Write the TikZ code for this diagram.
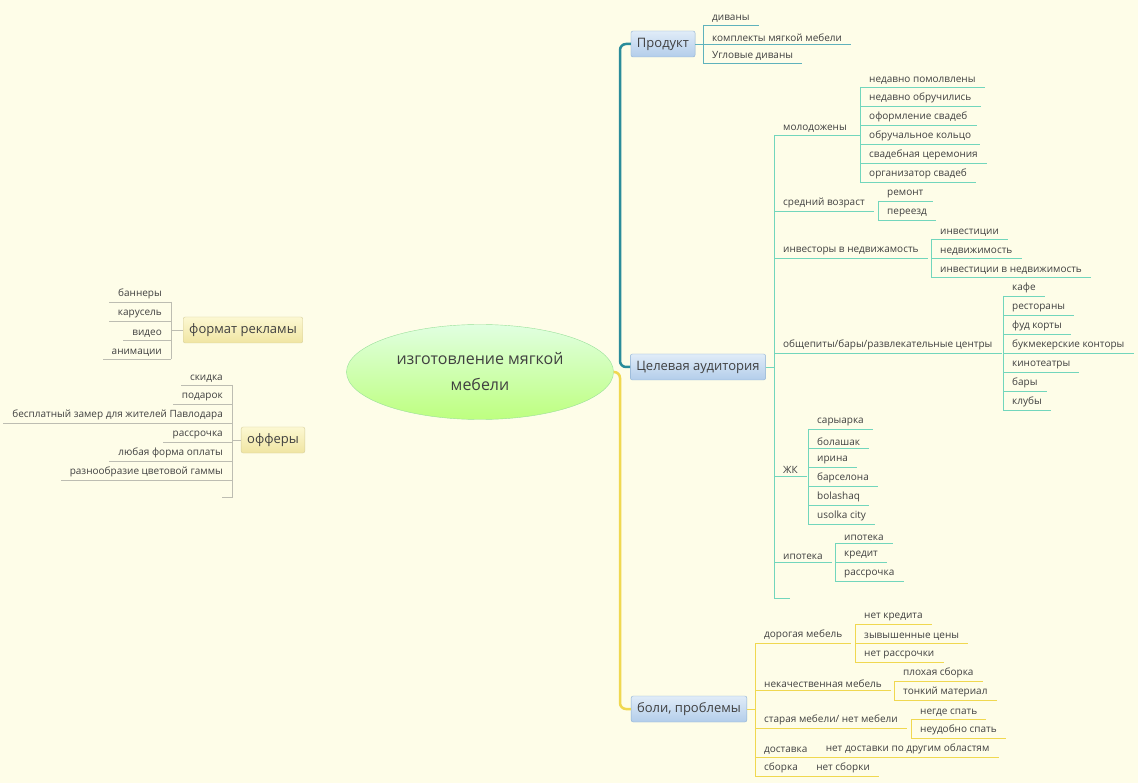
\documentclass[tikz,border=0pt]{standalone}
\usepackage{fontspec}
\setmainfont{Open Sans}
\usetikzlibrary{positioning, shapes.geometric}
\definecolor{bg}{HTML}{FEFDE8}
\definecolor{tealline}{HTML}{2A8C9A}
\definecolor{prodline}{HTML}{5FB2BC}
\definecolor{audline}{HTML}{72D6BC}
\definecolor{painline}{HTML}{F0D850}
\definecolor{leftline}{HTML}{BDBDB2}
\definecolor{boxtop}{HTML}{E0ECF8}
\definecolor{boxbot}{HTML}{B3CDEA}
\definecolor{boxdraw}{HTML}{8DB0D2}
\definecolor{ytop}{HTML}{FCF8D2}
\definecolor{ybot}{HTML}{F0E5A2}
\definecolor{ydraw}{HTML}{D6CE9C}
\begin{document}
\begin{tikzpicture}[x=1pt, y=-1pt,
    every node/.style={font=\fontsize{10}{12}\selectfont, text=black!75},
    leaf/.style={anchor=south west, inner xsep=9pt, inner ysep=2.5pt,
      append after command={(\tikzlastnode.south west) edge[draw=#1] (\tikzlastnode.south east)}},
    lleaf/.style={anchor=south east, inner xsep=9pt, inner ysep=2.5pt,
      append after command={(\tikzlastnode.south east) edge[draw=#1] (\tikzlastnode.south west)}},
    topic/.style={draw=boxdraw, rounded corners=2pt, top color=boxtop, bottom color=boxbot,
      font=\fontsize{13}{15}\selectfont, minimum height=26pt, inner xsep=6pt},
    ltopic/.style={topic, draw=ydraw, top color=ytop, bottom color=ybot},
    br/.style={draw=#1}
  ]
\fill[bg] (0,0) rectangle (1138,783);

%% central topic and main branches
\node[ellipse, draw=black!30!green!40, top color=green!12, bottom color=green!35!lime!50,
  minimum width=267pt, minimum height=95pt, align=center,
  font=\fontsize{16}{26}\selectfont] (center) at (480,372) {изготовление мягкой\\мебели};
\node[topic] (prod) at (663,44) {Продукт};
\node[topic] (aud) at (698,367) {Целевая аудитория};
\node[topic] (pain) at (689,709) {боли, проблемы};
\node[ltopic] (fmt) at (243,330) {формат рекламы};
\node[ltopic] (off) at (273,440) {офферы};

\draw[tealline, line width=2.5pt, rounded corners=6pt] (prod.west) -- (620,44) -- (620,367) -- (aud.west);
\draw[painline, line width=2.5pt, rounded corners=6pt] (center.east) -- (620,372) -- (620,709) -- (pain.west);

%% Продукт
\foreach \t [count=\i] in {диваны, комплекты мягкой мебели, Угловые диваны}
  \node[leaf=prodline] (p\i) at (703,25+19*\i-19) {\t};
\draw[br=prodline] (p1.south west) -- (p3.south west);
\draw[br=prodline] (prod.east) -- (p2.south west);

%% Целевая аудитория
\node[leaf=audline] (a1) at (774,135) {молодожены};
\node[leaf=audline] (a2) at (774,211) {средний возраст};
\node[leaf=audline] (a3) at (774,258) {инвесторы в недвижамость};
\node[leaf=audline] (a4) at (774,353) {общепиты/бары/развлекательные центры};
\node[leaf=audline] (a5) at (774,476) {ЖК};
\node[leaf=audline] (a6) at (774,562) {ипотека};
\coordinate (a7) at (774,598);
\draw[br=audline] (a1.south west) -- (a7) -- ++(16,0);
\draw[br=audline] (aud.east) -- (774,367);

\foreach \t [count=\i] in {недавно помолвлены, недавно обручились, оформление свадеб,
    обручальное кольцо, свадебная церемония, организатор свадеб}
  \node[leaf=audline] (m\i) at (860,87+19*\i-19) {\t};
\draw[br=audline] (m1.south west) -- (m6.south west);
\draw[br=audline] (a1.south east) -- (m1.south west |- a1.south);

\foreach \t [count=\i] in {ремонт, переезд}
  \node[leaf=audline] (s\i) at (878,201+19*\i-19) {\t};
\draw[br=audline] (s1.south west) -- (s2.south west);

\foreach \t [count=\i] in {инвестиции, недвижимость, инвестиции в недвижимость}
  \node[leaf=audline] (v\i) at (931,239+19*\i-19) {\t};
\draw[br=audline] (v1.south west) -- (v3.south west);

\foreach \t [count=\i] in {кафе, рестораны, фуд корты, букмекерские конторы, кинотеатры, бары, клубы}
  \node[leaf=audline] (c\i) at (1003,296+19*\i-19) {\t};
\draw[br=audline] (c1.south west) -- (c7.south west);

\foreach \t [count=\i] in {сарыарка, болашак, ирина, барселона, bolashaq, usolka city}
  \node[leaf=audline] (z\i) at (808,429+19*\i-19) {\t};
\draw[br=audline] (z1.south west) -- (z6.south west);

\foreach \t [count=\i] in {ипотека, кредит, рассрочка}
  \node[leaf=audline] (i\i) at (835,543+19*\i-19) {\t};
\draw[br=audline] (i1.south west) -- (i3.south west);

%% боли, проблемы
\node[leaf=painline] (b1) at (755,643) {дорогая мебель};
\node[leaf=painline] (b2) at (755,690) {некачественная мебель};
\node[leaf=painline] (b3) at (755,728) {старая мебели/ нет мебели};
\node[leaf=painline] (b4) at (755,757) {доставка};
\node[leaf=painline] (b5) at (755,776) {сборка};
\draw[br=painline] (b1.south west) -- (b5.south west);
\draw[br=painline] (pain.east) -- (755,709);

\foreach \t [count=\i] in {нет кредита, зывышенные цены, нет рассрочки}
  \node[leaf=painline] (d\i) at (855,624+19*\i-19) {\t};
\draw[br=painline] (d1.south west) -- (d3.south west);

\foreach \t [count=\i] in {плохая сборка, тонкий материал}
  \node[leaf=painline] (k\i) at (894,681+19*\i-19) {\t};
\draw[br=painline] (k1.south west) -- (k2.south west);

\foreach \t [count=\i] in {негде спать, неудобно спать}
  \node[leaf=painline] (o\i) at (911,719+19*\i-19) {\t};
\draw[br=painline] (o1.south west) -- (o2.south west);

\node[leaf=painline] (g1) at (b4.south east) {нет доставки по другим областям};
\node[leaf=painline] (r1) at (b5.south east) {нет сборки};

%% left side
\foreach \t [count=\i] in {баннеры, карусель, видео, анимации}
  \node[lleaf=leftline] (f\i) at (171,302+19*\i-19) {\t};
\draw[br=leftline] (f1.south east) -- (f4.south east);
\draw[br=leftline] (fmt.west) -- (171,330);

\foreach \t [count=\i] in {скидка, подарок, бесплатный замер для жителей Павлодара,
    рассрочка, любая форма оплаты, разнообразие цветовой гаммы}
  \node[lleaf=leftline] (e\i) at (232,385+19*\i-19) {\t};
\coordinate (e7) at (232,497);
\draw[br=leftline] (e1.south east) -- (e7) -- ++(-10,0);
\draw[br=leftline] (off.west) -- (232,440);
\end{tikzpicture}
\end{document}
